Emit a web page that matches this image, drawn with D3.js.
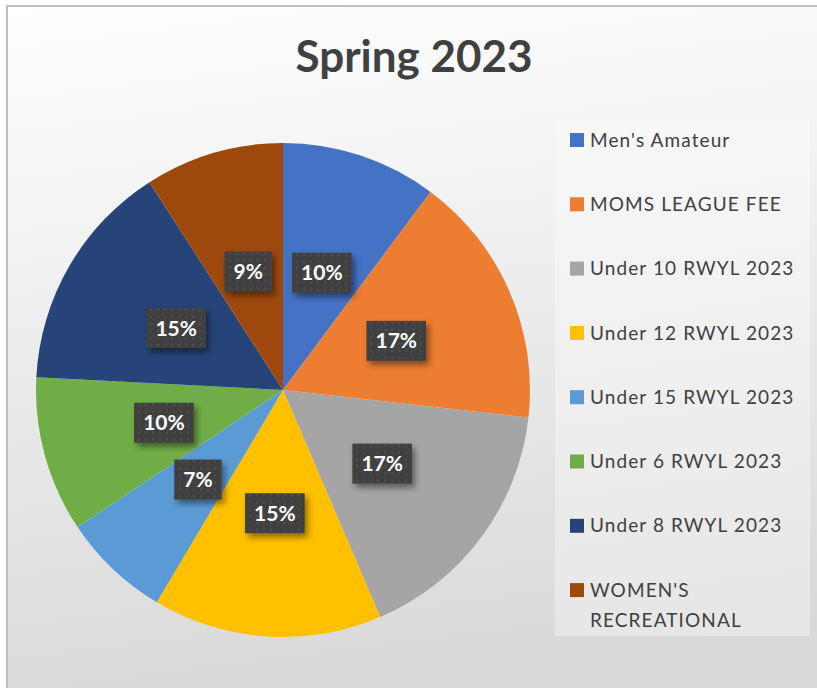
<!DOCTYPE html>
<html lang="en">
<head>
<meta charset="UTF-8">
<title>Spring 2023</title>
<script src="https://cdn.jsdelivr.net/npm/d3@7/dist/d3.min.js"></script>
<style>
  body { margin: 0; background: #fff; }
  text { font-family: Lato, "Noto Sans", sans-serif; }
</style>
</head>
<body>
<svg width="817" height="688"></svg>
<script>
// data (share of total, in %)
var categories = ["Men's Amateur", "MOMS LEAGUE FEE", "Under 10 RWYL 2023", "Under 12 RWYL 2023",
                  "Under 15 RWYL 2023", "Under 6 RWYL 2023", "Under 8 RWYL 2023", "WOMEN'S RECREATIONAL"];
var values = [10.2, 16.6, 16.8, 15.0, 7.1, 10.2, 15.1, 9.1];
var colors = ["#4472C4", "#ED7D31", "#A5A5A5", "#FFC000", "#5B9BD5", "#70AD47", "#264478", "#9E480E"];

var svg = d3.select('svg');
var defs = svg.append('defs');

// chart area background
var grad = defs.append('linearGradient').attr('id', 'bg').attr('x1', 0).attr('y1', 0).attr('x2', 0.15).attr('y2', 1);
grad.append('stop').attr('offset', '0%').attr('stop-color', '#ffffff');
grad.append('stop').attr('offset', '100%').attr('stop-color', '#d9d9d9');

// dotted texture for the data labels
var pat = defs.append('pattern').attr('id', 'dots').attr('patternUnits', 'userSpaceOnUse')
    .attr('width', 7).attr('height', 7);
pat.append('rect').attr('width', 7).attr('height', 7).attr('fill', '#404040');
pat.append('rect').attr('x', 2).attr('y', 2).attr('width', 2).attr('height', 2).attr('fill', '#505050');

var shadow = defs.append('filter').attr('id', 'shadow').attr('x', '-30%').attr('y', '-30%').attr('width', '170%').attr('height', '180%');
shadow.append('feDropShadow').attr('dx', 3).attr('dy', 4).attr('stdDeviation', 3)
    .attr('flood-color', '#000').attr('flood-opacity', 0.45);

svg.append('rect').attr('x', 7).attr('y', 6).attr('width', 830).attr('height', 700)
    .attr('fill', 'url(#bg)').attr('stroke', '#c0c0c0').attr('stroke-width', 2);

// title
svg.append('text').attr('x', 414).attr('y', 72).attr('text-anchor', 'middle')
    .attr('font-size', 44).attr('font-weight', 'bold').attr('fill', '#404040')
    .text('Spring 2023');

// pie
var cx = 283, cy = 390, radius = 247;
var pie = d3.pie().sort(null);
var arc = d3.arc().innerRadius(0).outerRadius(radius);
var pieData = pie(values);
var total = d3.sum(values);

var g = svg.append('g').attr('transform', 'translate(' + cx + ',' + cy + ')');
g.selectAll('path').data(pieData).enter().append('path')
    .attr('d', arc)
    .attr('fill', function (d, i) { return colors[i]; });

// data labels
var labels = g.selectAll('.lbl').data(pieData).enter().append('g')
    .attr('class', 'lbl')
    .attr('transform', function (d) { return 'translate(' + arc.centroid(d) + ')'; });

labels.each(function (d) {
    var lg = d3.select(this);
    var box = lg.append('rect').attr('fill', 'url(#dots)').attr('filter', 'url(#shadow)');
    var t = lg.append('text').attr('text-anchor', 'middle').attr('dy', '0.36em')
        .attr('font-size', 21).attr('font-weight', 'bold').attr('fill', '#fff')
        .text(Math.round(d.data / total * 100) + '%');
    var w = t.node().getComputedTextLength() + 18;
    box.attr('x', -w / 2).attr('y', -20).attr('width', w).attr('height', 40);
});

// legend
var legend = svg.append('g');
legend.append('rect').attr('x', 555).attr('y', 120).attr('width', 255).attr('height', 516)
    .attr('fill', '#ffffff').attr('fill-opacity', 0.35);

var step = 64.3;
categories.forEach(function (name, i) {
    var y = 140 + i * step;
    legend.append('rect').attr('x', 570).attr('y', y - 7).attr('width', 14).attr('height', 14)
        .attr('fill', colors[i]);
    var t = legend.append('text').attr('x', 590).attr('y', y).attr('dy', '0.35em')
        .attr('font-size', 19).attr('letter-spacing', 1.1).attr('fill', '#404040');
    // wrap long names onto a second line
    var words = name.split(' ');
    var line = [];
    var tspan = t.append('tspan').attr('x', 590);
    words.forEach(function (word) {
        line.push(word);
        tspan.text(line.join(' '));
        if (tspan.node().getComputedTextLength() > 215 && line.length > 1) {
            line.pop();
            tspan.text(line.join(' '));
            line = [word];
            tspan = t.append('tspan').attr('x', 590).attr('dy', 30).text(word);
        }
    });
});
</script>
</body>
</html>
